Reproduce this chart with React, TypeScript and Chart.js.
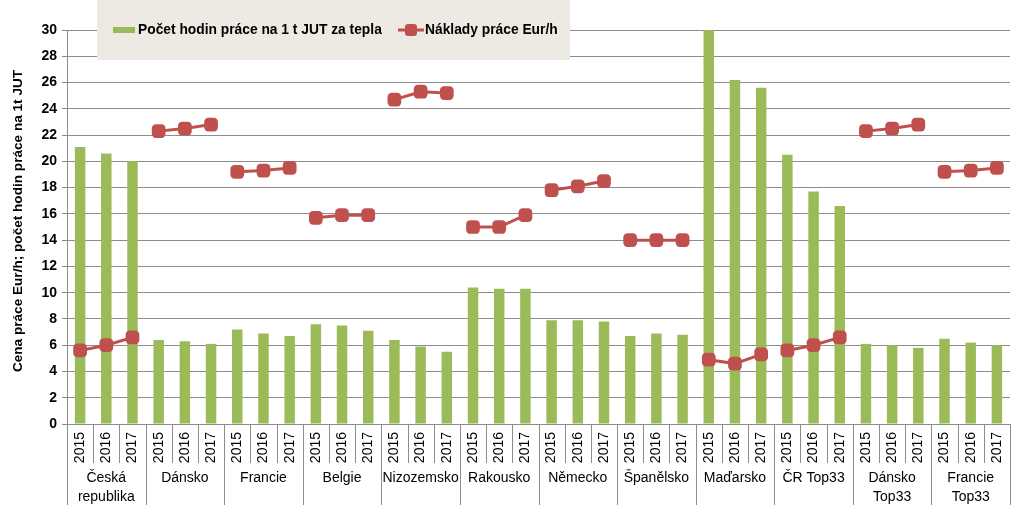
import React, { useEffect, useRef } from "react";
import { Chart, registerables } from "chart.js";

Chart.register(...registerables);

const years = ["2015", "2016", "2017"];
const groups: string[][] = [
  ["Česká", "republika"],
  ["Dánsko"],
  ["Francie"],
  ["Belgie"],
  ["Nizozemsko"],
  ["Rakousko"],
  ["Německo"],
  ["Španělsko"],
  ["Maďarsko"],
  ["ČR Top33"],
  ["Dánsko", "Top33"],
  ["Francie", "Top33"],
];

const hoursLabel = "Počet hodin práce na 1 t JUT za tepla";
const costLabel = "Náklady práce Eur/h";
const yTitle = "Cena práce Eur/h; počet hodin práce na 1t JUT";

const hoursPerTon = [
  21.1, 20.6, 20.0,
  6.4, 6.3, 6.1,
  7.2, 6.9, 6.7,
  7.6, 7.5, 7.1,
  6.4, 5.9, 5.5,
  10.4, 10.3, 10.3,
  7.9, 7.9, 7.8,
  6.7, 6.9, 6.8,
  30.0, 26.2, 25.6,
  20.5, 17.7, 16.6,
  6.1, 6.0, 5.8,
  6.5, 6.2, 6.0,
];

const laborCost = [
  5.6, 6.0, 6.6,
  22.3, 22.5, 22.8,
  19.2, 19.3, 19.5,
  15.7, 15.9, 15.9,
  24.7, 25.3, 25.2,
  15.0, 15.0, 15.9,
  17.8, 18.1, 18.5,
  14.0, 14.0, 14.0,
  4.9, 4.6, 5.3,
  5.6, 6.0, 6.6,
  22.3, 22.5, 22.8,
  19.2, 19.3, 19.5,
];

const GREEN = "#9BBB59";
const RED = "#C0504D";
const GRID = "#8C8C8C";
const FONT = "'Liberation Sans', Arial, sans-serif";

const labels = groups.flatMap(() => years);

const decorPlugin = {
  id: "decor",
  beforeDatasetsDraw(chart: any) {
    const ctx = chart.ctx;
    ctx.save();
    ctx.fillStyle = "#ECEAE3";
    ctx.fillRect(97, 0, 473, 60);
    ctx.fillStyle = GREEN;
    ctx.fillRect(113, 27, 22, 6);
    ctx.fillStyle = "#000";
    ctx.font = `bold 13.8px ${FONT}`;
    ctx.textBaseline = "middle";
    ctx.textAlign = "left";
    ctx.fillText(hoursLabel, 138, 30);
    ctx.strokeStyle = RED;
    ctx.lineWidth = 3;
    ctx.beginPath();
    ctx.moveTo(398, 30);
    ctx.lineTo(424, 30);
    ctx.stroke();
    ctx.fillStyle = RED;
    ctx.beginPath();
    (ctx as any).roundRect(405, 24, 12, 12, 3);
    ctx.fill();
    ctx.fillStyle = "#000";
    ctx.fillText(costLabel, 425, 30);
    ctx.restore();
  },
  afterDraw(chart: any) {
    const ctx = chart.ctx;
    const area = chart.chartArea;
    const n = labels.length;
    const w = (area.right - area.left) / n;
    ctx.save();
    ctx.strokeStyle = GRID;
    ctx.lineWidth = 1;
    for (let i = 0; i <= n; i++) {
      const px = Math.round(area.left + i * w) + 0.5;
      const isGroup = i % 3 === 0;
      ctx.beginPath();
      ctx.moveTo(px, area.bottom);
      ctx.lineTo(px, isGroup ? area.bottom + 81 : area.bottom + 39);
      ctx.stroke();
    }
    ctx.fillStyle = "#000";
    ctx.font = `14px ${FONT}`;
    ctx.textAlign = "center";
    ctx.textBaseline = "middle";
    groups.forEach((g, gi) => {
      const cx = area.left + (gi * 3 + 1.5) * w;
      g.forEach((line, li) => {
        ctx.fillText(line, cx, area.bottom + 54 + li * 19);
      });
    });
    // y axis title
    ctx.translate(18, 221);
    ctx.rotate(-Math.PI / 2);
    ctx.font = `bold 13.6px ${FONT}`;
    ctx.fillText(yTitle, 0, 0);
    ctx.restore();
  },
};

export default function App() {
  const ref = useRef<HTMLCanvasElement | null>(null);
  useEffect(() => {
    if (!ref.current) return;
    const chart = new Chart(ref.current, {
      type: "bar",
      data: {
        labels,
        datasets: [
          {
            type: "line",
            label: costLabel,
            data: laborCost,
            borderColor: RED,
            backgroundColor: RED,
            borderWidth: 3,
            pointStyle: "rectRounded",
            pointRadius: 8,
            pointBackgroundColor: RED,
            pointBorderColor: RED,
            pointBorderWidth: 0,
            order: 0,
            segment: {
              borderColor: (c: any) =>
                Math.floor(c.p0DataIndex / 3) === Math.floor(c.p1DataIndex / 3)
                  ? RED
                  : "rgba(0,0,0,0)",
            },
          } as any,
          {
            type: "bar",
            label: hoursLabel,
            data: hoursPerTon,
            backgroundColor: GREEN,
            categoryPercentage: 1,
            barPercentage: 0.4,
            order: 1,
          },
        ],
      },
      options: {
        animation: false,
        responsive: true,
        maintainAspectRatio: false,
        layout: { padding: { top: 30, right: 13, left: 0, bottom: 0 } },
        plugins: {
          legend: { display: false },
          tooltip: { enabled: false },
        },
        scales: {
          x: {
            grid: { display: false, drawTicks: false },
            border: { display: true, color: GRID },
            ticks: {
              minRotation: 90,
              maxRotation: 90,
              autoSkip: false,
              padding: 8,
              color: "#000",
              font: { family: FONT, size: 14 },
            },
            afterFit: (s: any) => {
              s.height = 90;
            },
          },
          y: {
            min: 0,
            max: 30,
            ticks: {
              stepSize: 2,
              padding: 5,
              color: "#000",
              font: { family: FONT, size: 14, weight: "bold" },
            },
            grid: { color: GRID, tickLength: 5, lineWidth: 1 },
            border: { display: true, color: GRID },
            afterFit: (s: any) => {
              s.width = 67;
            },
          },
        },
      },
      plugins: [decorPlugin],
    });
    return () => chart.destroy();
  }, []);
  return (
    <div style={{ position: "fixed", left: 0, top: 0, width: 1023, height: 514, background: "#fff" }}>
      <canvas ref={ref} />
    </div>
  );
}
